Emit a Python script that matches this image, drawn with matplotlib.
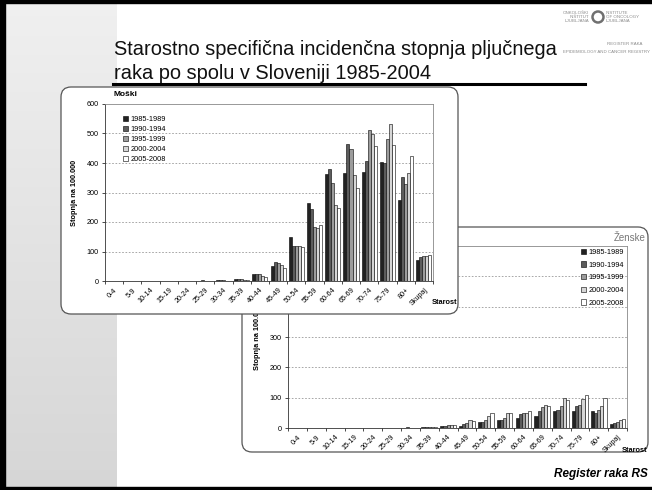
import matplotlib.pyplot as plt
import numpy as np
from matplotlib.patches import FancyBboxPatch, Rectangle

W, H = 652, 490

ages = ['0-4', '5-9', '10-14', '15-19', '20-24', '25-29', '30-34', '35-39', '40-44',
        '45-49', '50-54', '55-59', '60-64', '65-69', '70-74', '75-79', '80+', 'Skupaj']
periods = ['1985-1989', '1990-1994', '1995-1999', '2000-2004', '2005-2008']
bar_colors = ['#222222', '#5c5c5c', '#9c9c9c', '#d6d6d6', '#ffffff']

# Moški (men), rate per 100.000
m_1985 = [0, 0, 0, 0, 0, 1, 2, 8, 25, 52, 148, 265, 364, 366, 369, 403, 276, 72]
m_1990 = [0, 0, 0, 0, 0, 2, 2, 8, 25, 65, 117, 245, 381, 464, 407, 400, 351, 80]
m_1995 = [0, 0, 0, 0, 0, 1, 2, 8, 25, 60, 117, 183, 333, 447, 512, 480, 328, 85]
m_2000 = [0, 0, 0, 0, 0, 1, 1, 5, 18, 55, 120, 181, 259, 361, 498, 532, 366, 85]
m_2005 = [0, 0, 0, 0, 0, 1, 1, 5, 13, 43, 115, 189, 249, 315, 458, 461, 423, 87]

# Ženske (women)
f_1985 = [0, 0, 0, 0, 0, 0, 1, 3, 7, 8, 20, 28, 34, 40, 57, 57, 57, 14]
f_1990 = [0, 0, 0, 0, 0, 0, 2, 3, 8, 14, 20, 28, 45, 57, 60, 72, 49, 16]
f_1995 = [0, 0, 0, 0, 0, 0, 1, 2, 10, 18, 25, 32, 48, 68, 71, 76, 60, 20]
f_2000 = [0, 0, 0, 0, 0, 0, 1, 2, 10, 26, 38, 51, 49, 76, 99, 95, 74, 25]
f_2005 = [0, 0, 0, 0, 0, 0, 1, 3, 10, 24, 49, 51, 57, 74, 92, 109, 99, 30]

moski = [m_1985, m_1990, m_1995, m_2000, m_2005]
zenske = [f_1985, f_1990, f_1995, f_2000, f_2005]

plt.rcParams['font.family'] = ['Liberation Sans', 'DejaVu Sans']

fig = plt.figure(figsize=(W / 100, H / 100), dpi=100)


def fx(x):
    return x / W


def fy(y):
    return 1 - y / H


# slide background
bg = fig.add_axes([0, 0, 1, 1], zorder=0)
bg.set_xlim(0, W)
bg.set_ylim(H, 0)
bg.axis('off')
lev = np.linspace(0.94, 0.84, 200)
strip = np.repeat(lev[:, None, None], 3, axis=2) * np.ones((1, 40, 3))
bg.imshow(strip, extent=[5, 117, 487, 3], aspect='auto', zorder=0)
bg.add_patch(Rectangle((0, 0), W, 3.5, color='black', zorder=2))
bg.add_patch(Rectangle((0, 486.5), W, 4, color='black', zorder=2))
bg.add_patch(Rectangle((0, 0), 5, H, color='black', zorder=2))
bg.plot([113, 585], [84, 84], color='black', lw=2.2, zorder=2)

bg.text(114, 55, 'Starostno specifična incidenčna stopnja pljučnega', fontsize=14.4,
        color='#111111', va='baseline', zorder=3)
bg.text(114, 79, 'raka po spolu v Sloveniji 1985-2004', fontsize=14.4,
        color='#111111', va='baseline', zorder=3)

# logo (faint)
logo_c = '#8a8a8a'
bg.text(589, 17, 'ONKOLOŠKI\nINŠTITUT\nLJUBLJANA', fontsize=3.2, color=logo_c, ha='right',
        va='center', linespacing=1.1, zorder=1)
bg.text(606, 17, 'INSTITUTE\nOF ONCOLOGY\nLJUBLJANA', fontsize=3.2, color=logo_c, ha='left',
        va='center', linespacing=1.1, zorder=1)
bg.add_patch(plt.Circle((598, 17), 5.5, fill=False, ec='#707070', lw=1.8, zorder=1))
bg.text(607, 44, 'REGISTER RAKA', fontsize=3.2, color=logo_c, va='center', zorder=1)
bg.text(650, 52, 'EPIDEMIOLOGY AND CANCER REGISTRY', fontsize=3.2, color=logo_c, ha='right',
        va='center', zorder=1)

bg.text(648, 474, 'Register raka RS', fontsize=8.5, fontweight='bold', fontstyle='italic',
        ha='right', va='center', zorder=3)


def panel(x0, y0, x1, y1, z):
    p = FancyBboxPatch(((x0 + 8) / 100, (H - y1 + 8) / 100), (x1 - x0 - 16) / 100,
                       (y1 - y0 - 16) / 100, boxstyle='round,pad=0.08,rounding_size=0.1',
                       transform=fig.dpi_scale_trans, fc='white', ec='#555555', lw=0.9,
                       zorder=z)
    fig.add_artist(p)


def bars(ax, series, legend_loc, anchor, spacing):
    x = np.arange(len(ages))
    w = 0.165
    for i, vals in enumerate(series):
        ax.bar(x + (i - 2) * w, vals, w, color=bar_colors[i], edgecolor='black',
               linewidth=0.4, label=periods[i], zorder=3)
    ax.set_xlim(-0.5, len(ages) - 0.5)
    ax.set_ylim(0, 600)
    ax.set_yticks(range(0, 601, 100))
    ax.set_xticks(x)
    ax.set_xticklabels(ages, rotation=45, ha='right', rotation_mode='anchor', fontsize=5.2)
    ax.set_xticks(np.arange(-0.5, len(ages), 1), minor=True)
    ax.tick_params(axis='x', which='major', length=0, pad=4)
    ax.tick_params(axis='x', which='minor', length=2, width=0.5)
    ax.tick_params(axis='y', labelsize=5.2, length=2.5, width=0.5, pad=2)
    for yv in range(100, 600, 100):
        ax.axhline(yv, color='#999999', lw=0.6, ls=(0, (2, 2)), zorder=1)
    for s in ax.spines.values():
        s.set_color('#888888')
        s.set_linewidth(0.6)
    ax.spines['left'].set_color('#333333')
    ax.spines['bottom'].set_color('#333333')
    ax.set_ylabel('Stopnja na 100.000', fontsize=5.3, fontweight='bold', labelpad=6)
    leg = ax.legend(loc=legend_loc, bbox_to_anchor=anchor, frameon=False, fontsize=5.3,
                    handlelength=0.7, handleheight=0.7, handletextpad=0.3,
                    labelspacing=spacing, borderpad=0, borderaxespad=0)
    for h in leg.legend_handles:
        h.set_linewidth(0.4)


# women chart (behind)
panel(242, 227, 648, 452, 1)
ax_f = fig.add_axes([fx(288), fy(428), 339 / W, 182 / H], zorder=2)
bars(ax_f, zenske, 'upper right', (0.99, 0.985), 0.75)
fig.text(fx(646), fy(238), 'Ženske', fontsize=7, color='#777777', ha='right', va='center', zorder=2)
fig.text(fx(647), fy(450), 'Starost', fontsize=5.3, fontweight='bold', ha='right', va='center', zorder=2)

# men chart (front)
panel(61, 87, 458, 314, 3)
ax_m = fig.add_axes([fx(105), fy(281), 328 / W, 177 / H], zorder=4)
bars(ax_m, moski, 'upper left', (0.055, 0.935), 0.4)
fig.text(fx(113), fy(94), 'Moški', fontsize=6, fontweight='bold', ha='left', va='center', zorder=4)
fig.text(fx(457), fy(302), 'Starost', fontsize=5.3, fontweight='bold', ha='right', va='center', zorder=4)

fig.savefig('out.png', dpi=100)
